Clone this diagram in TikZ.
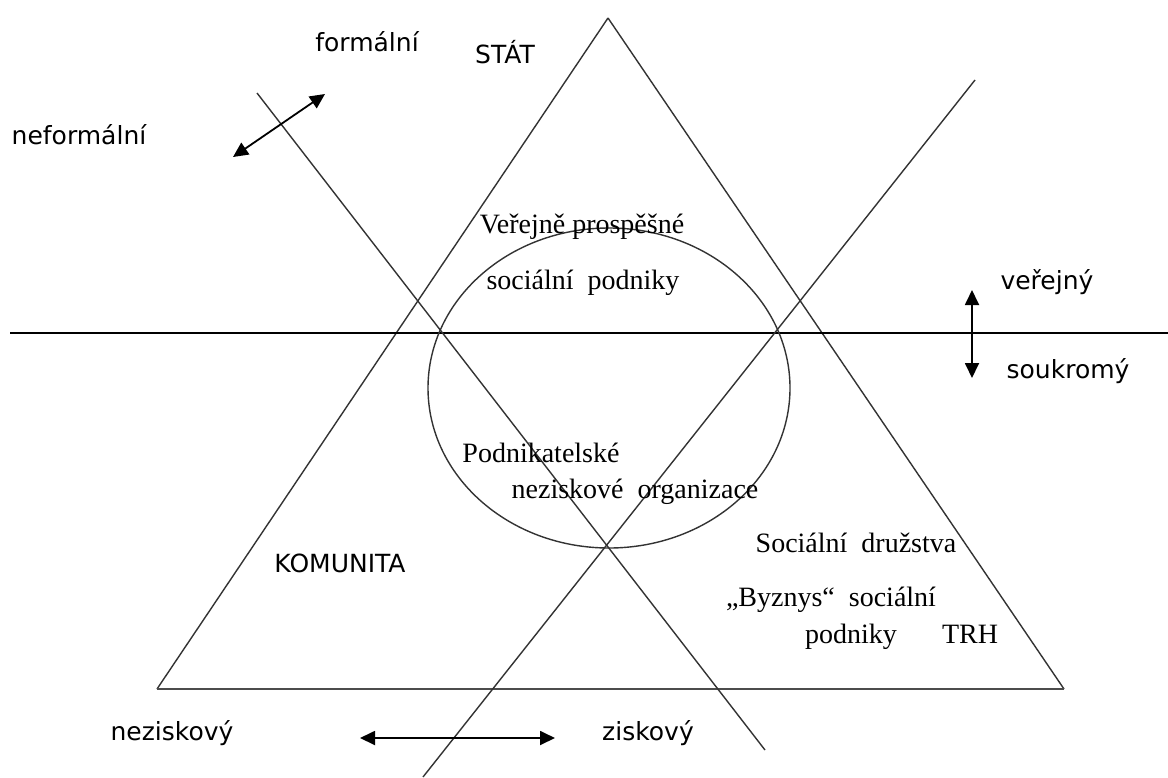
\documentclass[tikz,border=0pt]{standalone}
\usepackage{fontspec}
\setmainfont{Liberation Serif}
\newfontfamily\sansf{DejaVu Sans}
\usetikzlibrary{arrows.meta}
\begin{document}
\begin{tikzpicture}[x=1pt,y=-1pt,
  geo/.style={line width=1.4pt,draw=black!80},
  dbl/.style={line width=1.8pt,{Triangle[length=15pt,width=14pt]}-{Triangle[length=15pt,width=14pt]}},
  sanslab/.style={inner sep=0pt,font=\sansf\fontsize{25}{29}\selectfont},
  seriflab/.style={inner sep=0pt,font=\fontsize{28}{32}\selectfont}]
\useasboundingbox (0,0) rectangle (1168,777);
\fill[white] (0,0) rectangle (1168,777);
% geometry
\coordinate (apex) at (608,18);
\coordinate (bl) at (157,689);
\coordinate (br) at (1064,689);
\coordinate (hl) at (10,333);
\coordinate (hr) at (1168,333);
\coordinate (l1a) at (257,93);
\coordinate (l1b) at (765,750);
\coordinate (l2a) at (975,80);
\coordinate (l2b) at (423,777);
\coordinate (ctr) at (609,388);
\draw[geo] (apex) -- (bl);
\draw[geo] (apex) -- (br);
\draw[line width=2pt,draw=black!70] (bl) -- (br);
\draw[line width=1.5pt] (hl) -- (hr);
\draw[geo] (l1a) -- (l1b);
\draw[geo] (l2a) -- (l2b);
\draw[geo] (ctr) ellipse [x radius=181, y radius=160];
% arrows
\coordinate (fa) at (233,157);
\coordinate (fb) at (325,94);
\coordinate (va) at (972,290);
\coordinate (vb) at (972,378);
\coordinate (ha) at (360,738);
\coordinate (hb) at (555,738);
\draw[dbl] (fa) -- (fb);
\draw[dbl] (va) -- (vb);
\draw[dbl] (ha) -- (hb);
% labels
\node[sanslab] (formal) at (367,42) {formální};
\node[sanslab] (stat) at (505,52) {STÁT};
\node[sanslab] (neformal) at (79,135) {neformální};
\node[sanslab] (verejny) at (1047,282) {veřejný};
\node[sanslab] (soukromy) at (1068,371) {soukromý};
\node[sanslab] (komunita) at (340,563) {KOMUNITA};
\node[sanslab] (nezisk) at (172,733) {neziskový};
\node[sanslab] (zisk) at (648,733) {ziskový};
\node[seriflab] (vp) at (582,227) {Veřejně prospěšné};
\node[seriflab] (sp) at (583,283) {sociální\ \ podniky};
\node[seriflab] (pod) at (541,453) {Podnikatelské};
\node[seriflab] (no) at (635,492) {neziskové\ \ organizace};
\node[seriflab] (sd) at (856,543) {Sociální\ \ družstva};
\node[seriflab] (bs) at (831,600) {„Byznys“\ \ sociální};
\node[seriflab,anchor=base] (pdk) at (851,643) {podniky};
\node[seriflab,anchor=base] (trh) at (970,643) {TRH};
\end{tikzpicture}
\end{document}
